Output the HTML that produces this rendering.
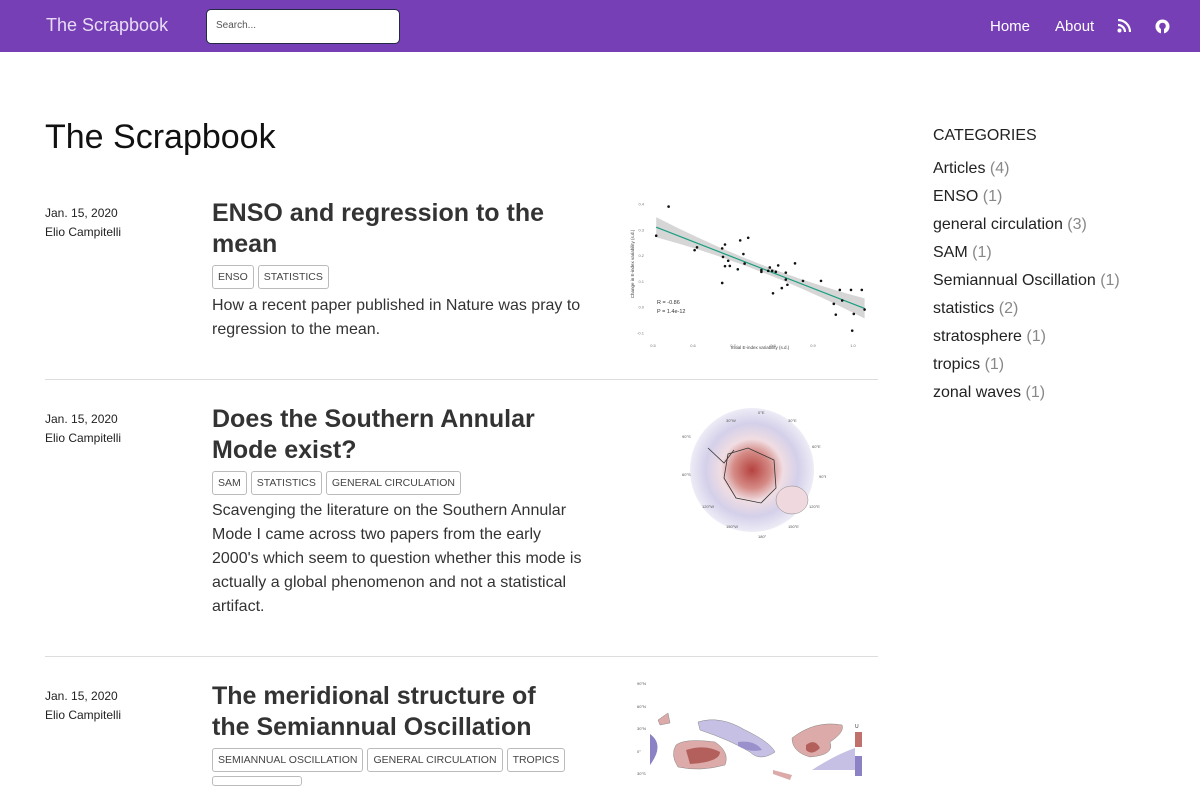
<!DOCTYPE html>
<html><head><meta charset="utf-8"><style>
*{box-sizing:border-box;margin:0;padding:0}
body{width:1200px;height:780px;overflow:hidden;background:#fff;font-family:"Liberation Sans",Arial,sans-serif;color:#222;position:relative}
.nav{position:absolute;left:0;top:0;width:1200px;height:52px;background:#773fb5}
.abs{position:absolute}
.brand{left:46px;top:15px;font-size:18px;color:#e8dcf5}
.search{left:206px;top:9px;width:194px;height:35px;background:#fff;border:1px solid #222a44;border-radius:5px;font-size:10px;color:#555;padding:10px 9px}
.navlink{top:18px;font-size:15px;color:#fff}
h1{position:absolute;left:45px;top:118px;font-size:34px;font-weight:normal;color:#111}
.date{font-size:12px;color:#222;line-height:19px}
.ttl{font-size:25px;font-weight:bold;color:#333;line-height:31px;width:365px}
.tag{display:inline-block;border:1px solid #bbb;border-radius:3px;font-size:10.5px;padding:5px 5px;margin-right:4px;color:#444;text-transform:uppercase}
.desc{font-size:16px;line-height:24px;color:#333;width:380px}
.sep{left:45px;width:833px;height:1px;background:#ddd}
.cat{left:933px;font-size:16px;color:#222}
.cat span{color:#888}
</style></head><body>
<div class="nav"></div>
<div class="abs brand">The Scrapbook</div>
<div class="abs search">Search...</div>
<div class="abs navlink" style="left:990px">Home</div>
<div class="abs navlink" style="left:1055px">About</div>
<svg class="abs" style="left:1117px;top:19px" width="14" height="14"><circle cx="2.5" cy="11.5" r="2" fill="#fff"/><path d="M1 6a7 7 0 0 1 7 7M1 1a12 12 0 0 1 12 12" stroke="#fff" stroke-width="2.2" fill="none"/></svg>
<svg class="abs" style="left:1155px;top:19px" width="15" height="15"><circle cx="7.5" cy="7.5" r="7" fill="#fff"/><circle cx="7.5" cy="7" r="3.3" fill="#773fb5"/><rect x="6" y="10" width="3" height="5" fill="#773fb5"/></svg>

<h1>The Scrapbook</h1>

<!-- post 1 -->
<div class="abs date" style="left:45px;top:204px">Jan. 15, 2020<br>Elio Campitelli</div>
<div class="abs ttl" style="left:212px;top:198px">ENSO and regression to the mean</div>
<div class="abs" style="left:212px;top:265px"><span class="tag">ENSO</span><span class="tag">Statistics</span></div>
<div class="abs desc" style="left:212px;top:294px">How a recent paper published in Nature was pray to regression to the mean.</div>
<svg id="scatter" class="abs" style="left:620px;top:190px" width="260" height="170"></svg>
<div class="abs sep" style="top:379px"></div>

<!-- post 2 -->
<div class="abs date" style="left:45px;top:410px">Jan. 15, 2020<br>Elio Campitelli</div>
<div class="abs ttl" style="left:212px;top:404px">Does the Southern Annular Mode exist?</div>
<div class="abs" style="left:212px;top:471px"><span class="tag">SAM</span><span class="tag">Statistics</span><span class="tag">General circulation</span></div>
<div class="abs desc" style="left:212px;top:499px">Scavenging the literature on the Southern Annular Mode I came across two papers from the early 2000's which seem to question whether this mode is actually a global phenomenon and not a statistical artifact.</div>
<svg class="abs" style="left:676px;top:408px" width="150" height="135">
<defs><radialGradient id="pg"><stop offset="0" stop-color="#b5423f"/><stop offset="0.3" stop-color="#d58b86"/><stop offset="0.5" stop-color="#f0dde2"/><stop offset="0.75" stop-color="#d4d0ea"/><stop offset="1" stop-color="#eeecf6"/></radialGradient></defs>
<circle cx="76" cy="62" r="62" fill="url(#pg)"/>
<ellipse cx="116" cy="92" rx="16" ry="14" fill="#efd9de" stroke="#888" stroke-width="0.5"/>
<path d="M52 46 L72 40 L98 52 L100 80 L85 95 L60 90 L48 70 Z" fill="none" stroke="#333" stroke-width="0.8"/>
<path d="M32 40 L48 55 L58 42" fill="none" stroke="#333" stroke-width="0.8"/>
<g font-size="4" fill="#555" font-family="Liberation Sans"><text x="82" y="6">0°E</text><text x="50" y="14">30°W</text><text x="112" y="14">30°E</text><text x="6" y="30">90°S</text><text x="136" y="40">60°E</text><text x="6" y="68">60°S</text><text x="143" y="70">90°E</text><text x="26" y="100">120°W</text><text x="133" y="100">120°E</text><text x="50" y="120">150°W</text><text x="112" y="120">150°E</text><text x="82" y="130">180°</text></g>
</svg>
<div class="abs sep" style="top:656px"></div>

<!-- post 3 -->
<div class="abs date" style="left:45px;top:687px">Jan. 15, 2020<br>Elio Campitelli</div>
<div class="abs ttl" style="left:212px;top:681px">The meridional structure of the Semiannual Oscillation</div>
<div class="abs" style="left:212px;top:748px"><span class="tag">Semiannual Oscillation</span><span class="tag">General circulation</span><span class="tag">Tropics</span></div>
<div class="abs" style="left:212px;top:776px;width:90px;height:10px;border:1px solid #bbb;border-radius:3px"></div>
<svg class="abs" style="left:620px;top:670px" width="260" height="110">
<g font-size="4" fill="#555" font-family="Liberation Sans"><text x="17" y="15">90°N</text><text x="17" y="38">60°N</text><text x="17" y="60">30°N</text><text x="17" y="83">0°</text><text x="17" y="105">30°S</text></g>
<path d="M38 50 L48 43 L50 53 L40 55 Z" fill="#dcaaa8" stroke="#888" stroke-width="0.5"/>
<path d="M56 75 Q65 68 95 72 Q110 82 105 95 Q80 102 58 97 Q50 85 56 75Z" fill="#dcaaa8" stroke="#888" stroke-width="0.5"/>
<path d="M66 80 Q85 74 100 82 Q100 92 70 94 Z" fill="#b3605d"/>
<path d="M78 52 Q100 45 125 60 Q150 72 155 82 Q140 92 130 82 Q110 70 80 60 Z" fill="#c5c0e4" stroke="#888" stroke-width="0.5"/>
<path d="M118 72 Q135 70 142 80 Q130 83 118 76Z" fill="#9a91cc"/>
<path d="M30 64 Q45 75 30 95 Z" fill="#8a82c4"/>
<path d="M172 68 Q195 50 222 55 Q225 62 210 72 Q215 85 190 87 Q172 82 172 68Z" fill="#dcaaa8" stroke="#888" stroke-width="0.5"/>
<path d="M186 75 Q195 68 200 78 Q192 86 186 80Z" fill="#b3605d"/>
<path d="M192 100 Q215 85 235 78 L235 100 Z" fill="#c5c0e4"/>
<path d="M153 100 L172 105 L170 110 L153 104Z" fill="#dcaaa8"/>
<text x="235" y="58" font-size="5" fill="#333" font-family="Liberation Sans">U</text>
<rect x="235" y="62" width="7" height="15" fill="#c0716c"/><rect x="235" y="86" width="7" height="20" fill="#8a82c4"/>
</svg>

<!-- sidebar -->
<div class="abs" style="left:933px;top:127px;font-size:16px;color:#222">CATEGORIES</div>
<div class="abs cat" style="top:160px">Articles <span>(4)</span></div>
<div class="abs cat" style="top:188px">ENSO <span>(1)</span></div>
<div class="abs cat" style="top:216px">general circulation <span>(3)</span></div>
<div class="abs cat" style="top:244px">SAM <span>(1)</span></div>
<div class="abs cat" style="top:272px">Semiannual Oscillation <span>(1)</span></div>
<div class="abs cat" style="top:300px">statistics <span>(2)</span></div>
<div class="abs cat" style="top:328px">stratosphere <span>(1)</span></div>
<div class="abs cat" style="top:356px">tropics <span>(1)</span></div>
<div class="abs cat" style="top:384px">zonal waves <span>(1)</span></div>

<script>
const xVals=[0.508,0.539,0.604,0.61,0.673,0.675,0.68,0.68,0.673,0.688,0.692,0.712,0.718,0.726,0.729,0.738,0.771,0.771,0.788,0.792,0.798,0.807,0.813,0.8,0.822,0.832,0.832,0.836,0.855,0.875,0.92,0.952,0.957,0.967,0.973,0.995,0.998,1.002,1.022,1.029];
const yVals=[0.277,0.39,0.221,0.232,0.228,0.195,0.243,0.159,0.094,0.18,0.16,0.147,0.259,0.206,0.169,0.269,0.144,0.137,0.141,0.154,0.141,0.137,0.162,0.054,0.074,0.134,0.107,0.087,0.17,0.102,0.102,0.013,-0.029,0.067,0.026,0.067,-0.091,-0.026,0.067,-0.009];
const fitX=[0.508,1.029];
const fitY=[0.31,-0.005];
const xTicks=[0.5,0.6,0.7,0.8,0.9,1.0];
const yTicks=[-0.1,0.0,0.1,0.2,0.3,0.4];
const NS='http://www.w3.org/2000/svg';
const sv=document.getElementById('scatter');
const sx=v=>33+(v-0.5)*400;
const sy=v=>14+(0.4-v)*258;
function mk(t,a){const e=document.createElementNS(NS,t);for(const k in a)e.setAttribute(k,a[k]);sv.appendChild(e);return e;}
const bx0=fitX[0],bx1=fitX[1],bm=(bx0+bx1)/2;
const fy=x=>fitY[0]+(fitY[1]-fitY[0])*(x-bx0)/(bx1-bx0);
let bandTop=[],bandBot=[];
for(let i=0;i<=10;i++){const x=bx0+(bx1-bx0)*i/10;const w=0.014+0.1*Math.pow((x-bm)/(bx1-bx0),2);bandTop.push(sx(x)+','+sy(fy(x)+w));bandBot.unshift(sx(x)+','+sy(fy(x)-w));}
const band=mk('polygon',{points:bandTop.concat(bandBot).join(' '),fill:'#ccc',opacity:0.8});


const ln=mk('line',{x1:sx(fitX[0]),y1:sy(fitY[0]),x2:sx(fitX[1]),y2:sy(fitY[1]),stroke:'#1a9e80','stroke-width':1.2});


xVals.forEach((x,i)=>{const c=mk('circle',{cx:sx(x),cy:sy(yVals[i]),r:1.3,fill:'#111'});

});
xTicks.forEach(t=>{const e=mk('text',{x:sx(t),y:157,'font-size':4,fill:'#777','text-anchor':'middle','font-family':'Liberation Sans'});e.textContent=t.toFixed(1);

});
yTicks.forEach(t=>{const e=mk('text',{x:24,y:sy(t)+1.5,'font-size':4,fill:'#777','text-anchor':'end','font-family':'Liberation Sans'});e.textContent=t.toFixed(1);

});
const xt=mk('text',{x:140,y:159,'font-size':4.5,fill:'#444','text-anchor':'middle','font-family':'Liberation Sans'});xt.textContent='Initial E-index variability (s.d.)';


const yt=mk('text',{x:0,y:0,'font-size':4.5,fill:'#444','text-anchor':'middle','font-family':'Liberation Sans',transform:'translate(14,74) rotate(-90)'});yt.textContent='Change in E-index variability (s.d.)';


const s1=mk('text',{x:37,y:114,'font-size':5.5,fill:'#333','font-family':'Liberation Sans'});s1.textContent='R = -0.86';


const s2=mk('text',{x:37,y:123,'font-size':5.5,fill:'#333','font-family':'Liberation Sans'});s2.textContent='P = 1.4e-12';


</script>
</body></html>
